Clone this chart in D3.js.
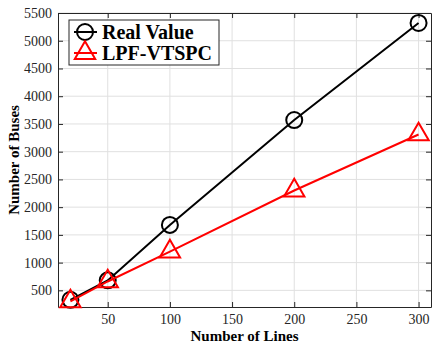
<!DOCTYPE html>
<html>
<head>
<meta charset="utf-8">
<script src="https://cdn.jsdelivr.net/npm/d3@7"></script>
<style>
  body { margin: 0; background: #fff; }
  svg text { font-family: "Liberation Serif", "Times New Roman", serif; }
</style>
</head>
<body>
<script>
const lines = [20, 50, 100, 200, 300];
const realValue = [330, 680, 1680, 3570, 5320];
const lpfValue = [300, 660, 1200, 2300, 3310];
const xTicks = [50, 100, 150, 200, 250, 300];
const yTicks = [500, 1000, 1500, 2000, 2500, 3000, 3500, 4000, 4500, 5000, 5500];

const w = 432, h = 343;
const m = { left: 58, right: 1, top: 13, bottom: 36 };
const serif = '"Liberation Serif", "Times New Roman", serif';

const svg = d3.select("body").append("svg")
  .attr("width", w)
  .attr("height", h);

const x = d3.scaleLinear().domain([10, 310]).range([m.left, w - m.right]);
const y = d3.scaleLinear().domain([200, 5500]).range([h - m.bottom, m.top]);

const g = svg.append("g");

// grid
g.selectAll(".gx").data(xTicks).enter().append("line")
  .attr("x1", d => x(d)).attr("x2", d => x(d))
  .attr("y1", y(200)).attr("y2", y(5500))
  .attr("stroke", "#e0e0e0").attr("stroke-width", 1);
g.selectAll(".gy").data(yTicks).enter().append("line")
  .attr("x1", x(10)).attr("x2", x(310))
  .attr("y1", d => y(d)).attr("y2", d => y(d))
  .attr("stroke", "#e0e0e0").attr("stroke-width", 1);

// axes
const fmt = d3.format("d");
const xAxis = g.append("g").attr("transform", `translate(0,${y(200)})`)
  .call(d3.axisBottom(x).tickValues(xTicks).tickSizeInner(-5).tickSizeOuter(0).tickPadding(7).tickFormat(fmt));
const xTop = g.append("g").attr("transform", `translate(0,${y(5500)})`)
  .call(d3.axisTop(x).tickValues(xTicks).tickSizeInner(-5).tickSizeOuter(0).tickFormat(""));
const yAxis = g.append("g").attr("transform", `translate(${x(10)},0)`)
  .call(d3.axisLeft(y).tickValues(yTicks).tickSizeInner(-5).tickSizeOuter(0).tickPadding(6).tickFormat(fmt));
const yRight = g.append("g").attr("transform", `translate(${x(310)},0)`)
  .call(d3.axisRight(y).tickValues(yTicks).tickSizeInner(-5).tickSizeOuter(0).tickFormat(""));

[xAxis, xTop, yAxis, yRight].forEach(a => {
  a.attr("font-family", serif).attr("font-size", 14);
  a.select(".domain").attr("stroke", "#262626").attr("stroke-width", 1);
  a.selectAll(".tick line").attr("stroke", "#262626");
  a.selectAll("text").attr("fill", "#262626").style("font-family", serif);
});

// series
const series = [
  { name: "Real Value", vals: realValue, color: "#000" },
  { name: "LPF-VTSPC", vals: lpfValue, color: "#ff0000" }
];

const lineGen = d3.line().x(d => x(d[0])).y(d => y(d[1]));
const tri = d3.symbol().type(d3.symbolTriangle).size(180);

series.forEach((s, i) => {
  const pts = lines.map((l, j) => [l, s.vals[j]]);
  g.append("path").datum(pts)
    .attr("d", lineGen)
    .attr("fill", "none")
    .attr("stroke", s.color)
    .attr("stroke-width", 2);
  if (i === 0) {
    g.selectAll(".c").data(pts).enter().append("circle")
      .attr("cx", d => x(d[0])).attr("cy", d => y(d[1]))
      .attr("r", 8)
      .attr("fill", "none").attr("stroke", s.color).attr("stroke-width", 2);
  } else {
    g.selectAll(".t").data(pts).enter().append("path")
      .attr("d", tri)
      .attr("transform", d => `translate(${x(d[0])},${y(d[1])})`)
      .attr("fill", "none").attr("stroke", s.color).attr("stroke-width", 2);
  }
});

// axis labels
svg.append("text")
  .attr("x", (x(10) + x(310)) / 2).attr("y", 341)
  .attr("text-anchor", "middle")
  .style("font-size", "15px").style("font-weight", "bold")
  .text("Number of Lines");
svg.append("text")
  .attr("transform", `translate(19,${(y(200) + y(5500)) / 2}) rotate(-90)`)
  .attr("text-anchor", "middle")
  .style("font-size", "15px").style("font-weight", "bold")
  .text("Number of Buses");

// legend
const lg = svg.append("g").attr("transform", "translate(69,20)");
lg.append("rect").attr("width", 150).attr("height", 45)
  .attr("fill", "#fff").attr("stroke", "#262626").attr("stroke-width", 1);
series.forEach((s, i) => {
  const ly = 12 + i * 21;
  lg.append("line").attr("x1", 5).attr("x2", 28).attr("y1", ly).attr("y2", ly)
    .attr("stroke", s.color).attr("stroke-width", 2);
  if (i === 0) {
    lg.append("circle").attr("cx", 16).attr("cy", ly).attr("r", 8)
      .attr("fill", "none").attr("stroke", s.color).attr("stroke-width", 2);
  } else {
    lg.append("path").attr("d", tri)
      .attr("transform", `translate(16,${ly})`)
      .attr("fill", "none").attr("stroke", s.color).attr("stroke-width", 2);
  }
  lg.append("text").attr("x", 33).attr("y", ly + 7)
    .style("font-size", "20px").style("font-weight", "bold")
    .text(s.name);
});
</script>
</body>
</html>
